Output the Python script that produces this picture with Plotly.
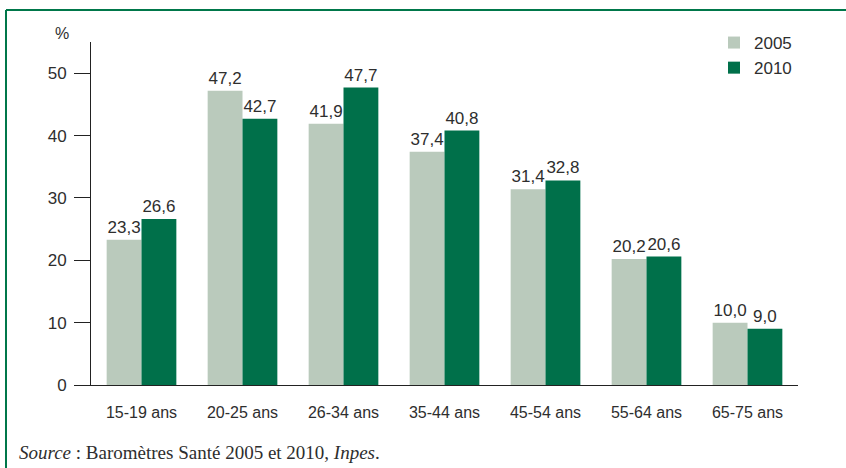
import plotly.graph_objects as go

categories = ["15-19 ans", "20-25 ans", "26-34 ans", "35-44 ans", "45-54 ans", "55-64 ans", "65-75 ans"]
values_2005 = [23.3, 47.2, 41.9, 37.4, 31.4, 20.2, 10.0]
values_2010 = [26.6, 42.7, 47.7, 40.8, 32.8, 20.6, 9.0]
series_names = ["2005", "2010"]
y_ticks = [0, 10, 20, 30, 40, 50]

W, H = 846, 468
L, R, T, B = 91, 48, 42, 83
pw, ph = W - L - R, H - T - B

def px_x(p):
    return (p - L) / pw

def px_y(p):
    return (H - B - p) / ph

text_color = "#2e2e2e"
font_sans = "Liberation Sans, Arial, sans-serif"
frame_color = "#00774A"

fig = go.Figure()
for name, vals, col in [(series_names[0], values_2005, "#BACABC"), (series_names[1], values_2010, "#00704A")]:
    fig.add_trace(go.Bar(
        x=categories, y=vals, name=name, marker=dict(color=col, line=dict(width=0)),
        texttemplate="%{y:.1f}", textposition="outside", cliponaxis=False,
        textfont=dict(family=font_sans, size=17, color=text_color),
    ))

fig.update_layout(
    width=W, height=H,
    margin=dict(l=L, r=R, t=T, b=B, pad=0),
    paper_bgcolor="white", plot_bgcolor="white",
    barmode="group", bargap=0.31, bargroupgap=0,
    separators=", ",
    font=dict(family=font_sans, color=text_color),
    showlegend=True,
    legend=dict(x=px_x(714), y=px_y(25), xanchor="left", yanchor="top",
                font=dict(family=font_sans, size=17, color=text_color),
                bgcolor="rgba(0,0,0,0)", borderwidth=0, itemsizing="constant"),
    xaxis=dict(range=[-0.5, 6.5], showline=True, linecolor="#222", linewidth=1,
               ticks="", showgrid=False, zeroline=False,
               tickfont=dict(family=font_sans, size=16, color=text_color),
               ticklabelstandoff=13),
    yaxis=dict(range=[0, 55], tickvals=y_ticks, showline=True, linecolor="#222", linewidth=1,
               ticks="outside", ticklen=16, tickcolor="#222", tickwidth=1,
               showgrid=False, zeroline=False,
               tickfont=dict(family=font_sans, size=17, color=text_color),
               ticklabelstandoff=4),
    annotations=[
        dict(text="%", xref="paper", yref="paper", x=px_x(62), y=px_y(33),
             xanchor="center", yanchor="middle",
             showarrow=False, font=dict(family=font_sans, size=16, color=text_color)),
        dict(text="<i>Source</i> : Baromètres Santé 2005 et 2010, <i>Inpes</i>.",
             xref="paper", yref="paper", x=px_x(17), y=px_y(452), xanchor="left", yanchor="middle",
             showarrow=False, font=dict(family="Liberation Serif, Times New Roman, serif", size=19, color=text_color)),
    ],
    shapes=[
        dict(type="line", xref="paper", yref="paper", x0=px_x(6), x1=px_x(900), y0=px_y(10), y1=px_y(10),
             line=dict(color=frame_color, width=2)),
        dict(type="line", xref="paper", yref="paper", x0=px_x(6), x1=px_x(6), y0=px_y(10), y1=px_y(520),
             line=dict(color=frame_color, width=2)),
    ],
)

fig.write_html("out.html", config={"displayModeBar": False},
               post_script="document.body.style.margin='0';document.body.style.overflow='hidden';")
